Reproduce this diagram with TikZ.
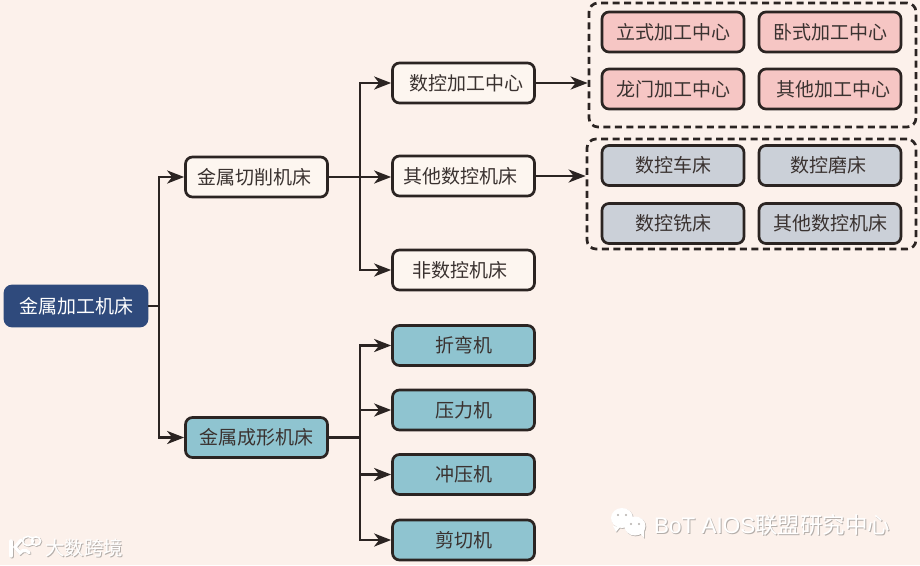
\documentclass[tikz,border=0pt]{standalone}
\usepackage{fontspec}
\setmainfont{Noto Sans CJK SC}
\setsansfont{Liberation Sans}
\usetikzlibrary{arrows.meta}
\definecolor{bgc}{HTML}{FCF1EB}
\definecolor{ink}{HTML}{2B2422}
\definecolor{txt}{HTML}{3A3230}
\definecolor{navy}{HTML}{2F4A7C}
\definecolor{teal}{HTML}{8FC4D0}
\definecolor{pinkb}{HTML}{F6C6C4}
\definecolor{greyb}{HTML}{CBD0D8}
\definecolor{paleb}{HTML}{FDF6F0}
\definecolor{wmshadow}{HTML}{B5AFAB}
\tikzset{
  box/.style={draw=ink,line width=2.7pt,rounded corners=7pt,minimum width=142pt,minimum height=40pt,inner sep=0pt,font=\fontsize{19pt}{20pt}\selectfont,text=txt},
  rootbox/.style={box,draw=navy,fill=navy,text=white},
  plainbox/.style={box,fill=paleb},
  tealbox/.style={box,fill=teal},
  pinkbox/.style={box,fill=pinkb},
  greybox/.style={box,fill=greyb},
  group/.style={draw=ink,line width=2.7pt,dash pattern=on 7pt off 4.5pt,rounded corners=9pt,inner sep=0pt},
  conn/.style={draw=ink,line width=2.7pt},
  arr/.style={conn,-{Stealth[length=17pt,width=13pt,inset=5pt]}},
  wm/.style={inner sep=0pt,anchor=west,text=white},
  wmsh/.style={inner sep=0pt,anchor=west,text=wmshadow},
}
\newcommand{\rsh}[1]{\hspace*{#1}}
\begin{document}
\begin{tikzpicture}[x=1pt,y=-1pt]
\useasboundingbox[fill=bgc] (0,0) rectangle (920,565);
% groups
\node[group,minimum width=327pt,minimum height=124pt] (g1) at (752.5,65) {};
\node[group,minimum width=329pt,minimum height=110pt] (g2) at (751.5,194) {};
% main boxes
\node[rootbox] (root) at (76,306) {金属加工机床};
\node[plainbox] (cut) at (256.5,177) {金属切削机床\rsh{4pt}};
\node[tealbox] (form) at (256.5,437.5) {金属成形机床};
\node[plainbox] (cnc) at (463.5,83) {\rsh{5pt}数控加工中心};
\node[plainbox] (ocnc) at (463.5,176) {其他数控机床\rsh{7pt}};
\node[plainbox] (non) at (463.5,270) {非数控机床\rsh{7pt}};
\node[tealbox] (bend) at (463.5,345.5) {折弯机};
\node[tealbox] (press) at (463.5,410) {压力机};
\node[tealbox] (punch) at (463.5,474.5) {冲压机};
\node[tealbox] (shear) at (463.5,540) {剪切机};
\node[pinkbox] (p1) at (673,32) {立式加工中心};
\node[pinkbox] (p2) at (830,32) {卧式加工中心};
\node[pinkbox] (p3) at (673,89) {龙门加工中心};
\node[pinkbox] (p4) at (830,89) {\rsh{6pt}其他加工中心};
\node[greybox] (q1) at (673,165.5) {数控车床};
\node[greybox] (q2) at (830,165.5) {数控磨床\rsh{3pt}};
\node[greybox] (q3) at (673,223.5) {数控铣床};
\node[greybox] (q4) at (830,223.5) {其他数控机床};
% junctions
\coordinate (j0) at (159,306);
\coordinate (j1) at (360,177);
\coordinate (j2) at (360,437.5);
\coordinate (e1) at (g1.west |- cnc.east);
\coordinate (e2) at (g2.west |- ocnc.east);
% connectors
\draw[conn] (root.east) -- (j0);
\draw[arr] (j0) |- (cut.west);
\draw[arr] (j0) |- (form.west);
\draw[conn] (cut.east) -- (j1);
\draw[arr] (j1) |- (cnc.west);
\draw[arr] (j1) -- (ocnc.west |- j1);
\draw[arr] (j1) |- (non.west);
\draw[conn] (form.east) -- (j2);
\draw[arr] (j2) |- (bend.west);
\draw[arr] (j2) |- (press.west);
\draw[arr] (j2) |- (punch.west);
\draw[arr] (j2) |- (shear.west);
\draw[arr] (cnc.east) -- (e1);
\draw[arr] (ocnc.east) -- (e2);
% watermark right
\foreach \dx/\c in {0.8/wmshadow,0/white}{
  \begin{scope}[shift={(\dx,\dx)}]
  \fill[\c] (622,518) ellipse (11 and 10);
  \fill[\c] (613,526) -- (616,532) -- (620,527) -- cycle;
  \fill[\c] (635,526) ellipse (10.5 and 9.5);
  \fill[\c] (640,533) -- (644,538) -- (644,530) -- cycle;
  \end{scope}
}
\fill[wmshadow] (618,515) circle (1.2) (626,515) circle (1.2) (631,524) circle (1.1) (639,524) circle (1.1);
\node[wmsh] (wa) at (654.8,525.8) {\fontsize{22.5pt}{24pt}\selectfont \sffamily BoT AIOS\rmfamily 联盟研究中心};
\node[wm] (wb) at (654,525) {\fontsize{22.5pt}{24pt}\selectfont \sffamily BoT AIOS\rmfamily 联盟研究中心};
% watermark left
\foreach \dx/\c in {0.8/wmshadow,0/white}{
  \begin{scope}[shift={(\dx,\dx)}]
  \draw[\c,line width=3.4pt,line cap=round] (11,541) -- (11,556);
  \draw[\c,line width=3.2pt,line cap=round] (21,540) -- (15,547) -- (20,553) arc[start angle=200,end angle=335,x radius=5,y radius=4];
  \draw[\c,line width=1.6pt] (28,541) ellipse (5.4 and 4.6) (36,541) ellipse (4.6 and 4.2);
  \end{scope}
}
\node[wmsh] (la) at (45.8,548.8) {\fontsize{19.5pt}{21pt}\selectfont 大数跨境};
\node[wm] (lb) at (45,548) {\fontsize{19.5pt}{21pt}\selectfont 大数跨境};
\end{tikzpicture}
\end{document}
